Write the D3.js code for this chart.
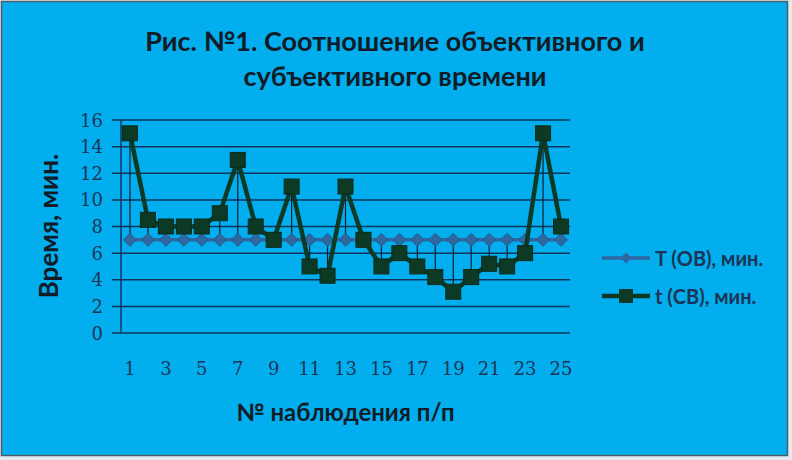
<!DOCTYPE html>
<html>
<head>
<meta charset="utf-8">
<script src="https://cdn.jsdelivr.net/npm/d3@7"></script>
<style>
  body { margin: 0; background: #e4ebef; }
  svg { display: block; }
</style>
</head>
<body>
<div id="chartDiv"></div>
<script>
const width = 792;
const height = 460;

// data
var observations = d3.range(1, 26)
var objectiveTime = [7, 7, 7, 7, 7, 7, 7, 7, 7, 7, 7, 7, 7, 7, 7, 7, 7, 7, 7, 7, 7, 7, 7, 7, 7]
var subjectiveTime = [15, 8.5, 8, 8, 8, 9, 13, 8, 7, 11, 5, 4.3, 11, 7, 5, 6, 5, 4.2, 3.1, 4.2, 5.2, 5, 6, 15, 8]
var yTicks = [0, 2, 4, 6, 8, 10, 12, 14, 16]
var xTickLabels = [1, 3, 5, 7, 9, 11, 13, 15, 17, 19, 21, 23, 25]
var seriesNames = ["T (ОВ), мин.", "t (СВ), мин."]

var plot = { left: 121, right: 570, top: 120, bottom: 333 }
var gridColor = "#13345a"
var labelColor = "#1c3557"
var blueSeries = "#2f67a0"
var greenSeries = "#0d3a25"

var svg = d3.select("#chartDiv").append("svg")
    .attr("width", width)
    .attr("height", height)

// chart background with a thin border
svg.append("rect")
    .attr("x", 1.5)
    .attr("y", 1.5)
    .attr("width", 786)
    .attr("height", 454)
    .style("fill", "#02aeed")
    .style("stroke", "#4d5b66")
    .style("stroke-width", 1.5)

var x = d3.scaleBand()
    .domain(observations)
    .range([plot.left, plot.right])

var y = d3.scaleLinear()
    .domain([0, 16])
    .range([plot.bottom, plot.top])

var cx = d => x(d) + x.bandwidth() / 2

// horizontal gridlines + outside tick marks
svg.append("g")
    .selectAll("line")
    .data(yTicks)
    .enter()
    .append("line")
    .attr("x1", plot.left - 9)
    .attr("x2", plot.right)
    .attr("y1", d => y(d))
    .attr("y2", d => y(d))
    .style("stroke", gridColor)
    .style("stroke-width", 1.5)

// y axis line
svg.append("line")
    .attr("x1", plot.left)
    .attr("x2", plot.left)
    .attr("y1", y(16))
    .attr("y2", y(0))
    .style("stroke", gridColor)
    .style("stroke-width", 1.5)

// y tick labels
svg.append("g")
    .selectAll("text")
    .data(yTicks)
    .enter()
    .append("text")
    .attr("x", 103)
    .attr("y", d => y(d))
    .attr("text-anchor", "end")
    .attr("dominant-baseline", "central")
    .style("font-family", "'DejaVu Serif', serif")
    .style("font-size", "18px")
    .style("fill", labelColor)
    .text(d => d)

// x tick labels
svg.append("g")
    .selectAll("text")
    .data(xTickLabels)
    .enter()
    .append("text")
    .attr("x", d => cx(d))
    .attr("y", 368)
    .attr("text-anchor", "middle")
    .attr("dominant-baseline", "central")
    .style("font-family", "'DejaVu Serif', serif")
    .style("font-size", "18px")
    .style("fill", labelColor)
    .text(d => d)

// high-low lines between the two series
svg.append("g")
    .selectAll("line")
    .data(observations)
    .enter()
    .append("line")
    .attr("x1", d => cx(d))
    .attr("x2", d => cx(d))
    .attr("y1", (d, i) => y(objectiveTime[i]))
    .attr("y2", (d, i) => y(subjectiveTime[i]))
    .style("stroke", "#0a1f33")
    .style("stroke-width", 1.2)

var lineGen = values => d3.line()
    .x((d, i) => cx(observations[i]))
    .y(d => y(d))(values)

// series T (OB)
svg.append("path")
    .attr("d", lineGen(objectiveTime))
    .style("fill", "none")
    .style("stroke", blueSeries)
    .style("stroke-width", 3.5)

svg.append("g")
    .selectAll("path")
    .data(objectiveTime)
    .enter()
    .append("path")
    .attr("d", d3.symbol().type(d3.symbolDiamond2).size(105))
    .attr("transform", (d, i) => "translate(" + cx(observations[i]) + "," + y(d) + ")")
    .style("fill", blueSeries)
    .style("stroke", "#25598a")
    .style("stroke-width", 1)

// series t (CB)
svg.append("path")
    .attr("d", lineGen(subjectiveTime))
    .style("fill", "none")
    .style("stroke", greenSeries)
    .style("stroke-width", 4.5)

svg.append("g")
    .selectAll("rect")
    .data(subjectiveTime)
    .enter()
    .append("rect")
    .attr("x", (d, i) => cx(observations[i]) - 7.5)
    .attr("y", d => y(d) - 7.5)
    .attr("width", 15)
    .attr("height", 15)
    .style("fill", greenSeries)
    .style("stroke", "#0a2b1c")
    .style("stroke-width", 1)

// title
var title = svg.append("text")
    .attr("text-anchor", "middle")
    .style("font-family", "Lato, sans-serif")
    .style("font-weight", "bold")
    .style("font-size", "27px")
    .style("fill", "#121c26")
title.append("tspan").attr("x", 395).attr("y", 51).text("Рис. №1. Соотношение объективного и")
title.append("tspan").attr("x", 395).attr("y", 86).text("субъективного времени")

// axis titles
svg.append("text")
    .attr("transform", "translate(48,226) rotate(-90)")
    .attr("text-anchor", "middle")
    .attr("dominant-baseline", "central")
    .style("font-family", "Lato, sans-serif")
    .style("font-weight", "bold")
    .style("font-size", "26px")
    .style("fill", "#121c26")
    .text("Время, мин.")

svg.append("text")
    .attr("x", cx(13))
    .attr("y", 411)
    .attr("text-anchor", "middle")
    .attr("dominant-baseline", "central")
    .style("font-family", "Lato, sans-serif")
    .style("font-weight", "bold")
    .style("font-size", "24px")
    .style("fill", "#121c26")
    .text("№ наблюдения п/п")

// legend
var legendX = 602
var legendY = 258
seriesNames.forEach((name, i) => {
    var ly = legendY + i * 38
    var color = i === 0 ? blueSeries : greenSeries
    svg.append("line")
        .attr("x1", legendX)
        .attr("x2", legendX + 48)
        .attr("y1", ly)
        .attr("y2", ly)
        .style("stroke", color)
        .style("stroke-width", i === 0 ? 3.5 : 4.5)
    if (i === 0) {
        svg.append("path")
            .attr("d", d3.symbol().type(d3.symbolDiamond2).size(80))
            .attr("transform", "translate(" + (legendX + 24) + "," + ly + ")")
            .style("fill", color)
    } else {
        svg.append("rect")
            .attr("x", legendX + 17)
            .attr("y", ly - 7)
            .attr("width", 14)
            .attr("height", 14)
            .style("fill", color)
    }
    svg.append("text")
        .attr("x", legendX + 53)
        .attr("y", ly)
        .attr("dominant-baseline", "central")
        .style("font-family", "Lato, sans-serif")
        .style("font-weight", "bold")
        .style("font-size", "20px")
        .style("fill", labelColor)
        .text(name)
})
</script>
</body>
</html>
